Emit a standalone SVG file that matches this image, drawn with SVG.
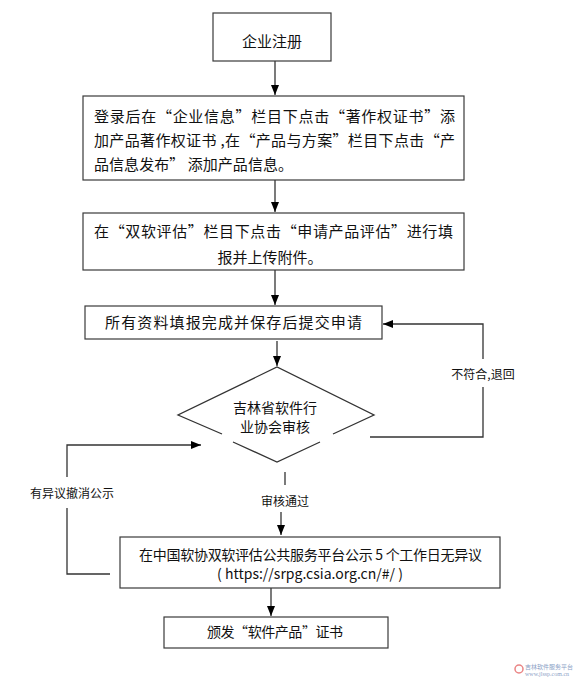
<svg xmlns="http://www.w3.org/2000/svg" width="575" height="681" viewBox="0 0 575 681">
<style>
.box{fill:#fff;stroke:#3a3a3a;stroke-width:1.2}
.t{font-family:"Noto Sans CJK SC","Liberation Sans",sans-serif;fill:#111;font-size:15px}
.s{font-family:"Noto Sans CJK SC","Liberation Sans",sans-serif;fill:#111;font-size:12px;text-anchor:middle}
.ln{fill:none;stroke:#333;stroke-width:1.3}
</style>
<defs>
<marker id="ah" markerUnits="userSpaceOnUse" markerWidth="10" markerHeight="10" viewBox="0 0 10 10" refX="10" refY="5" orient="auto">
<path d="M0,1 L10,5 L0,9 Z" fill="#000"/>
</marker>
</defs>
<rect width="575" height="681" fill="#fff"/>
<g id="connectors">
<path class="ln" d="M275,61 V95" marker-end="url(#ah)"/>
<path class="ln" d="M275,180 V212" marker-end="url(#ah)"/>
<path class="ln" d="M275,270 V305" marker-end="url(#ah)"/>
<path class="ln" d="M277,341 V366" marker-end="url(#ah)"/>
<path class="ln" d="M370,437 H483 V387"/>
<path class="ln" d="M483,359 V324 H383" marker-end="url(#ah)"/>
<path class="ln" d="M110,574 H67 V508"/>
<path class="ln" d="M67,477 V445 H201" marker-end="url(#ah)"/>
<path class="ln" d="M285,472 V485"/>
<path class="ln" d="M281,512 V535" marker-end="url(#ah)"/>
<path class="ln" d="M271,588 V616" marker-end="url(#ah)"/>
<text class="s" x="483" y="379">不符合,退回</text>
<text class="s" x="72" y="498">有异议撤消公示</text>
<text class="s" x="285" y="506">审核通过</text>
</g>
<g id="n1">
<rect class="box" x="213" y="13" width="118" height="48"/>
<text class="t" x="272" y="47" text-anchor="middle">企业注册</text>
</g>
<g id="n2">
<rect class="box" x="83" y="96" width="381" height="84"/>
<text class="t" x="94" y="122" textLength="361" lengthAdjust="spacing">登录后在“企业信息”栏目下点击“著作权证书”添</text>
<text class="t" x="94" y="146" textLength="361" lengthAdjust="spacing">加产品著作权证书 ,在“产品与方案”栏目下点击“产</text>
<text class="t" x="94" y="170" textLength="199" lengthAdjust="spacing">品信息发布” 添加产品信息。</text>
</g>
<g id="n3">
<rect class="box" x="83" y="213" width="381" height="57"/>
<text class="t" x="94" y="237" textLength="359" lengthAdjust="spacing">在“双软评估”栏目下点击“申请产品评估”进行填</text>
<text class="t" x="270" y="263" text-anchor="middle">报并上传附件。</text>
</g>
<g id="n4">
<rect class="box" x="85" y="306" width="297" height="33"/>
<text class="t" x="105" y="328" textLength="257" lengthAdjust="spacing">所有资料填报完成并保存后提交申请</text>
</g>
<g id="n5">
<polyline class="ln" points="222,434 178,415 277,367 374,415 333,434"/>
<polyline class="ln" points="233,442 277,462 320,442"/>
<text class="t" x="275" y="413" text-anchor="middle" style="font-size:14px">吉林省软件行</text>
<text class="t" x="275" y="432" text-anchor="middle" style="font-size:14px">业协会审核</text>
</g>
<g id="n6">
<rect class="box" x="120" y="537" width="380" height="51"/>
<text class="t" x="139" y="560" textLength="343" lengthAdjust="spacing" style="font-size:14px">在中国软协双软评估公共服务平台公示 5 个工作日无异议</text>
<text class="t" x="310" y="579" text-anchor="middle" style="font-size:14px">( https://srpg.csia.org.cn/#/ )</text>
</g>
<g id="n7">
<rect class="box" x="164" y="617" width="224" height="31"/>
<text class="t" x="207" y="637" textLength="136" lengthAdjust="spacing" style="font-size:14px">颁发“软件产品”证书</text>
</g>
<g id="watermark" opacity="0.6">
<circle cx="519" cy="669" r="4" fill="none" stroke="#d33" stroke-width="1.5"/>
<text x="525" y="669" style="font-family:'Noto Sans CJK SC',sans-serif;font-size:6px;fill:#3a5fa0">吉林软件服务平台</text>
<text x="525" y="676" style="font-family:'Liberation Serif',serif;font-size:6px;fill:#3a5fa0">www.jlssp.com.cn</text>
</g>
</svg>
